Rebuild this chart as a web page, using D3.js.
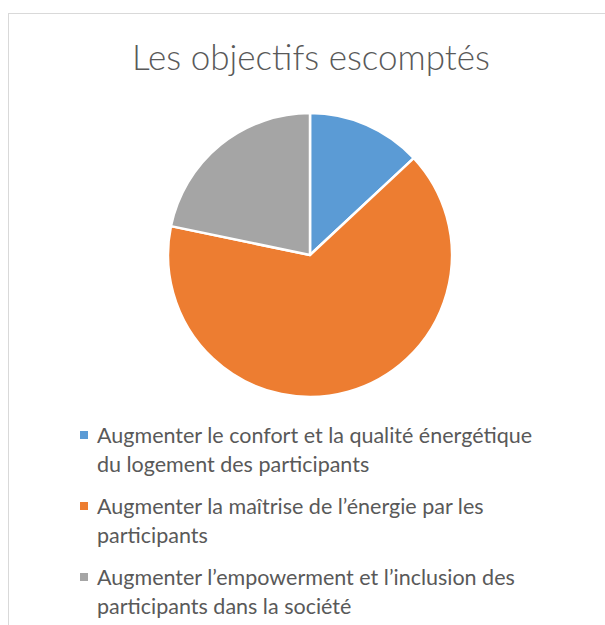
<!DOCTYPE html>
<html>
  <head>
    <meta charset="utf-8">
    <title>Les objectifs escomptés</title>
    <script src="https://cdn.jsdelivr.net/npm/d3@7"></script>
    <style>
      body { margin: 0; background: #fff; }
      #chart { display: block; }
      text { font-family: Lato, "Open Sans", sans-serif; fill: #595959; }
    </style>
  </head>
  <body>
    <svg id="chart" width="605" height="625"></svg>
    <script>
      // data
      const title = "Les objectifs escomptés";
      const categories = [
        ["Augmenter le confort et la qualité énergétique", "du logement des participants"],
        ["Augmenter la maîtrise de l’énergie par les", "participants"],
        ["Augmenter l’empowerment et l’inclusion des", "participants dans la société"]
      ];
      const values = [6, 30, 10];
      const colours = ["#5B9BD5", "#ED7D31", "#A5A5A5"];

      const chart = d3.select("#chart");

      // frame
      chart.append("rect")
        .attr("x", 8.5).attr("y", 13.5)
        .attr("width", 620).attr("height", 640)
        .attr("fill", "none")
        .attr("stroke", "#d9d9d9");

      chart.append("text")
        .attr("x", 311).attr("y", 70)
        .attr("text-anchor", "middle")
        .style("font-size", "35px")
        .style("font-weight", 300)
        .text(title);

      // pie
      const radius = 142;
      const pie = d3.pie().sort(null).value(d => d);
      const arc = d3.arc().innerRadius(0).outerRadius(radius);

      chart.append("g")
        .attr("transform", "translate(310, 255)")
        .selectAll("path")
          .data(pie(values))
        .enter().append("path")
          .attr("d", arc)
          .attr("fill", (d, i) => colours[i])
          .attr("stroke", "#fff")
          .attr("stroke-width", 2.5)
          .attr("stroke-linejoin", "round");

      // legend
      const legend = chart.append("g")
        .selectAll("g")
          .data(categories)
        .enter().append("g")
          .attr("transform", (d, i) => "translate(80, " + (443 + i * 71) + ")");

      legend.append("rect")
        .attr("x", 0).attr("y", -12)
        .attr("width", 8).attr("height", 8)
        .attr("fill", (d, i) => colours[i]);

      legend.append("text")
        .style("font-size", "21.5px")
        .selectAll("tspan")
          .data(d => d)
        .enter().append("tspan")
          .attr("x", 17)
          .attr("y", (d, i) => i * 29)
          .text(d => d);
    </script>
  </body>
</html>
